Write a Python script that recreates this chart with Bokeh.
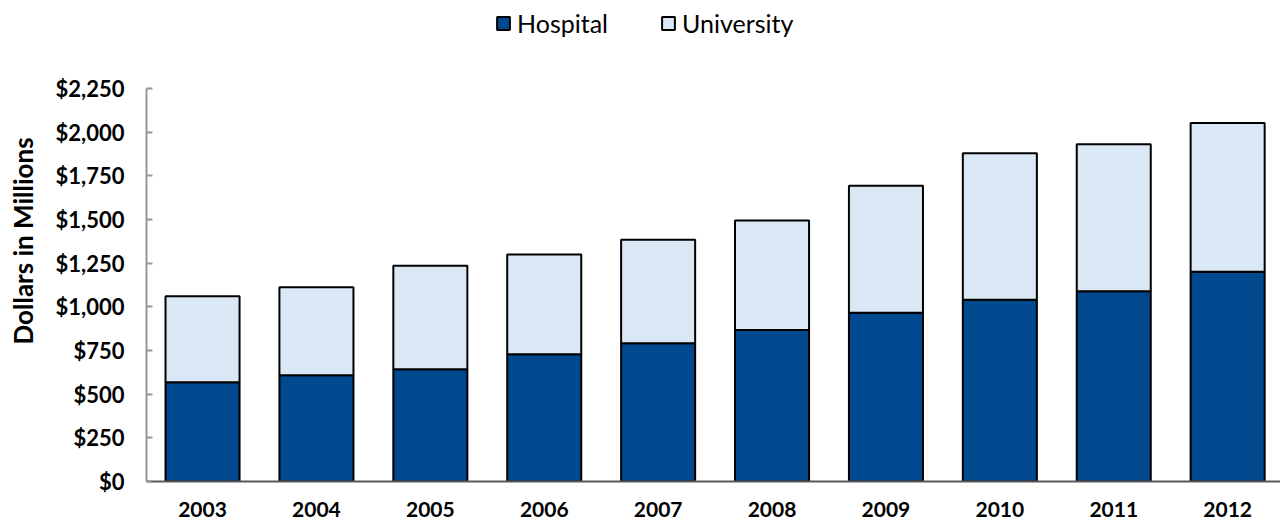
from bokeh.plotting import figure
from bokeh.models import Range1d, FixedTicker, NumeralTickFormatter, Legend, LegendItem, ColumnDataSource
from bokeh.embed import file_html
from bokeh.resources import INLINE

years = [2003, 2004, 2005, 2006, 2007, 2008, 2009, 2010, 2011, 2012]
hospital = [568, 608, 642, 728, 791, 868, 966, 1040, 1089, 1201]
university = [493, 504, 593, 572, 593, 627, 728, 839, 842, 852]
y_ticks = [0, 250, 500, 750, 1000, 1250, 1500, 1750, 2000, 2250]

FONT = "Lato"
HOSP_COLOR = "#00498F"
UNIV_COLOR = "#DAE8F6"

src = ColumnDataSource(dict(
    x=years,
    hosp=hospital,
    total=[h + u for h, u in zip(hospital, university)],
))

# frame spans the full canvas height above the x axis; the y axis is bounded to 0..2250
p = figure(width=1280, height=523, output_backend="svg", toolbar_location=None,
           x_range=Range1d(2002.508, 2012.464), y_range=Range1d(0, 2754),
           min_border_left=146, min_border_right=0, min_border_top=0, min_border_bottom=42)

r_h = p.vbar(x="x", bottom=0, top="hosp", width=0.65, source=src,
             fill_color=HOSP_COLOR, line_color="black", line_width=2)
r_u = p.vbar(x="x", bottom="hosp", top="total", width=0.65, source=src,
             fill_color=UNIV_COLOR, line_color="black", line_width=2)

p.xgrid.visible = False
p.ygrid.visible = False
p.outline_line_color = None

p.xaxis.ticker = FixedTicker(ticks=years)
p.xaxis.major_tick_line_color = None
p.xaxis.minor_tick_line_color = None
p.xaxis.axis_line_color = "#595959"
p.xaxis.axis_line_width = 2
p.xaxis.major_label_text_font = FONT
p.xaxis.major_label_text_font_style = "bold"
p.xaxis.major_label_text_font_size = "21px"
p.xaxis.major_label_text_color = "black"
p.xaxis.major_label_standoff = 14

p.yaxis.ticker = FixedTicker(ticks=y_ticks)
p.yaxis.bounds = (0, 2250)
p.yaxis.formatter = NumeralTickFormatter(format="$0,0")
p.yaxis.major_tick_in = 6
p.yaxis.major_tick_out = 0
p.yaxis.minor_tick_line_color = None
p.yaxis.axis_line_color = "#969696"
p.yaxis.axis_line_width = 2
p.yaxis.major_tick_line_color = "#969696"
p.yaxis.major_tick_line_width = 2
p.yaxis.major_label_text_font = FONT
p.yaxis.major_label_text_font_style = "bold"
p.yaxis.major_label_text_font_size = "22px"
p.yaxis.major_label_text_color = "black"
p.yaxis.major_label_standoff = 22
p.yaxis.axis_label = "Dollars in Millions"
p.yaxis.axis_label_text_font = FONT
p.yaxis.axis_label_text_font_style = "bold"
p.yaxis.axis_label_text_font_size = "26px"
p.yaxis.axis_label_text_color = "black"
p.yaxis.axis_label_standoff = 14

legend = Legend(items=[LegendItem(label="Hospital", renderers=[r_h]),
                       LegendItem(label="University", renderers=[r_u])],
                orientation="horizontal", location=(349, 443),
                glyph_width=16, glyph_height=16, label_standoff=6, spacing=52,
                padding=0, margin=0, border_line_color=None, background_fill_alpha=0,
                label_text_font=FONT, label_text_font_size="25px", label_text_color="black")
p.add_layout(legend, "center")

open("out.html", "w").write(file_html(p, INLINE))
